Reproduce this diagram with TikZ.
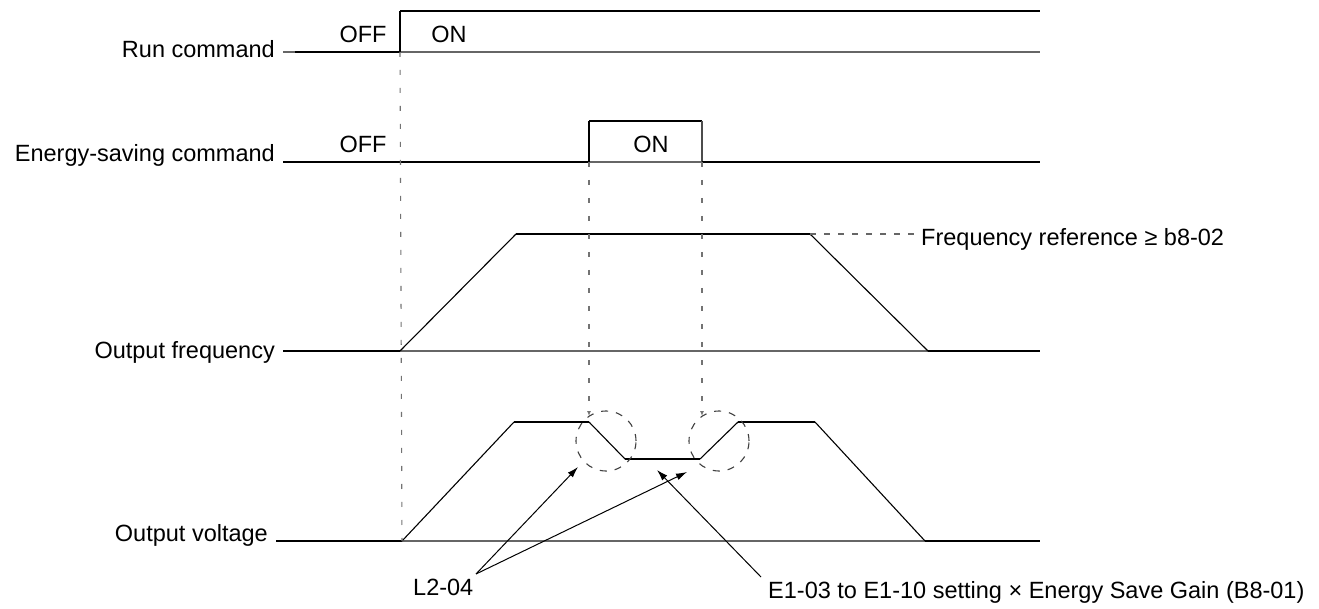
\documentclass[tikz,border=0pt]{standalone}
\usepackage{fontspec}
\setmainfont{Liberation Sans}
\usetikzlibrary{arrows.meta}
\begin{document}
\begin{tikzpicture}[x=1pt,y=-1pt,
  sig/.style={line width=2.2pt,black},
  ramp/.style={line width=1.1pt,black},
  refline/.style={line width=1.5pt,black!60},
  guide/.style={line width=1.1pt,black!55,dash pattern=on 5pt off 13pt},
  ring/.style={line width=1.1pt,black!75,dash pattern=on 7pt off 8pt},
  refdash/.style={line width=1.1pt,black!60,dash pattern=on 6pt off 8pt},
  lbl/.style={font=\fontsize{23.5}{28}\selectfont,inner sep=0pt},
  callout/.style={line width=1pt,black,-{Latex[length=11pt,width=7pt]}},
  guidetip/.style={-{Latex[length=5pt,width=4pt]}},
  ]
\useasboundingbox (0,0) rectangle (1319,609);

% labels
\node[lbl,anchor=base east] (runlbl) at (275,58) {Run command};
\node[lbl,anchor=base east] (eslbl) at (275,162) {Energy-saving command};
\node[lbl,anchor=base east] (oflbl) at (275,359) {Output frequency};
\node[lbl,anchor=base east] (ovlbl) at (268,541) {Output voltage};

% run command
\coordinate (r0) at (283,52);
\coordinate (r1) at (295,52);
\coordinate (r2) at (400,52);
\coordinate (r3) at (400,11);
\coordinate (r4) at (1040,11);
\coordinate (r5) at (1040,52);
\draw[refline] (r0) -- (r5);
\draw[sig] (r1) -- (r2);
\draw[line width=1.6pt] (r2) -- (r3);
\draw[sig] (r3) -- (r4);
\node[lbl,anchor=base] (runoff) at (363,43) {OFF};
\node[lbl,anchor=base] (runon) at (449,43) {ON};

% energy-saving command
\coordinate (e0) at (283,162);
\coordinate (e1) at (589,162);
\coordinate (e2) at (589,121);
\coordinate (e3) at (702,121);
\coordinate (e4) at (702,162);
\coordinate (e5) at (1040,162);
\draw[refline] (e1) -- (e4);
\draw[sig] (e0) -- (e1);
\draw[ramp] (e1) -- (e2);
\draw[sig] (e2) -- (e3);
\draw[ramp,black!70] (e3) -- (e4);
\draw[sig] (e4) -- (e5);
\node[lbl,anchor=base] (esoff) at (363,153) {OFF};
\node[lbl,anchor=base] (eson) at (651,153) {ON};

% output frequency
\coordinate (f0) at (283,351);
\coordinate (f1) at (400,351);
\coordinate (f2) at (516,234);
\coordinate (f3) at (810,234);
\coordinate (f4) at (928,351);
\coordinate (f5) at (1040,351);
\draw[refline] (f1) -- (f4);
\draw[sig] (f0) -- (f1);
\draw[ramp] (f1) -- (f2);
\draw[sig] (f2) -- (f3);
\draw[ramp] (f3) -- (f4);
\draw[sig] (f4) -- (f5);
\node[lbl,anchor=base west] (freqref) at (921,246) {Frequency reference ≥ b8-02};
\draw[refdash] (f3) -- (f3 -| freqref.west);

% output voltage
\coordinate (v0) at (276,541);
\coordinate (v1) at (402,541);
\coordinate (v2) at (514,422);
\coordinate (v3) at (589,422);
\coordinate (v4) at (625,459);
\coordinate (v5) at (700,459);
\coordinate (v6) at (738,422);
\coordinate (v7) at (815,422);
\coordinate (v8) at (925,541);
\coordinate (v9) at (1040,541);
\draw[refline] (v1) -- (v8);
\draw[sig] (v0) -- (v1);
\draw[ramp] (v1) -- (v2);
\draw[sig] (v2) -- (v3);
\draw[ramp] (v3) -- (v4);
\draw[sig] (v4) -- (v5);
\draw[ramp] (v5) -- (v6);
\draw[sig] (v6) -- (v7);
\draw[ramp] (v7) -- (v8);
\draw[sig] (v8) -- (v9);

% dashed circles
\coordinate (c1) at (606,441);
\coordinate (c2) at (719,441);
\draw[ring] (c1) circle[radius=30pt];
\draw[ring] (c2) circle[radius=30pt];

% guide lines
\coordinate (g1) at (589,416);
\coordinate (g2) at (702,416);
\draw[guide] (r2) -- (v1 |- v0);
\draw[guide,guidetip] (e1) -- (g1);
\draw[guide,guidetip] (e4) -- (g2);

% callouts
\node[lbl,anchor=base west] (l204) at (413,595) {L2-04};
\node[lbl,anchor=base west] (e1txt) at (768,598) {E1-03 to E1-10 setting × Energy Save Gain (B8-01)};
\coordinate (ls) at (476,574);
\coordinate (es) at (761,577);
\coordinate (t1) at (578,467);
\coordinate (t2) at (687,472);
\coordinate (t3) at (657,470);
\draw[callout] (ls) -- (t1);
\draw[callout] (ls) -- (t2);
\draw[callout] (es) -- (t3);
\end{tikzpicture}
\end{document}
